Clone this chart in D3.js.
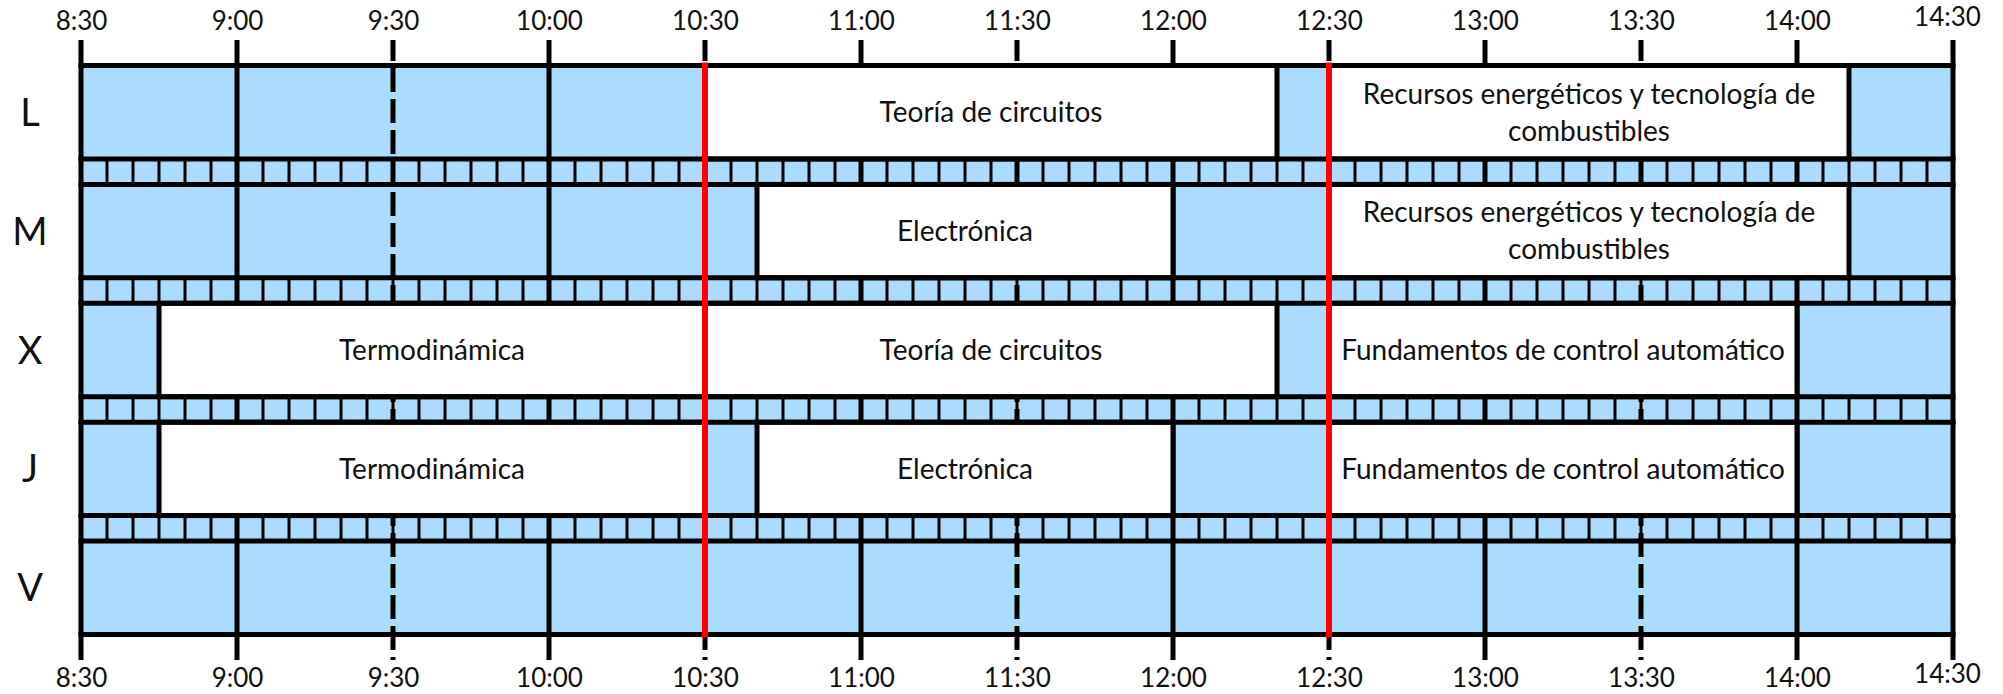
<!DOCTYPE html>
<html>
<head>
<meta charset="utf-8">
<script src="https://cdn.jsdelivr.net/npm/d3@7"></script>
<style>
  body { margin: 0; background: #fff; }
  text { font-family: Lato, "Open Sans", sans-serif; fill: #111; }
</style>
</head>
<body>
<div id="horario"></div>
<script>
// datos del horario
const days = ['L', 'M', 'X', 'J', 'V'];
const timeLabels = ['8:30', '9:00', '9:30', '10:00', '10:30', '11:00', '11:30',
    '12:00', '12:30', '13:00', '13:30', '14:00', '14:30'];

const classDay = ['L', 'L', 'M', 'M', 'X', 'X', 'X', 'J', 'J', 'J'];
const classSubject = [
    'Teoría de circuitos',
    'Recursos energéticos y tecnología de combustibles',
    'Electrónica',
    'Recursos energéticos y tecnología de combustibles',
    'Termodinámica',
    'Teoría de circuitos',
    'Fundamentos de control automático',
    'Termodinámica',
    'Electrónica',
    'Fundamentos de control automático'
];
const classStart = ['10:30', '12:30', '10:40', '12:30', '8:45', '10:30', '12:30', '8:45', '10:40', '12:30'];
const classEnd = ['12:20', '14:10', '12:00', '14:10', '10:30', '12:20', '14:00', '10:30', '12:00', '14:00'];

// descansos marcados en rojo
const breakLines = ['10:30', '12:30'];

function toMin(t) {
    const [h, m] = t.split(':').map(Number);
    return h * 60 + m;
}

const width = 2003;
const height = 694;
const blue = '#abdcfe';
const lineW = 5;

const svg = d3.select('#horario').append('svg')
    .attr('width', width)
    .attr('height', height);

const tStart = toMin(timeLabels[0]);
const tEnd = toMin(timeLabels[timeLabels.length - 1]);

const x = d3.scaleLinear()
    .domain([tStart, tEnd])
    .range([81, 1953]);

const y = d3.scaleBand()
    .domain(days)
    .range([65.5, 634.5])
    .paddingInner(0.214)
    .paddingOuter(0);
const bw = y.bandwidth();

const yTop = y(days[0]);
const yBottom = y(days[days.length - 1]) + bw;

// fondo azul
svg.append('rect')
    .attr('x', x(tStart))
    .attr('y', yTop)
    .attr('width', x(tEnd) - x(tStart))
    .attr('height', yBottom - yTop)
    .attr('fill', blue);

// franjas de 5 minutos entre dias
const strips = svg.append('g').attr('class', 'strips');
days.slice(0, -1).forEach((d, i) => {
    const y0 = y(d) + bw;
    const y1 = y(days[i + 1]);
    strips.selectAll(null)
        .data(d3.range(tStart + 5, tEnd, 5))
        .enter()
        .append('line')
        .attr('x1', m => x(m))
        .attr('x2', m => x(m))
        .attr('y1', y0)
        .attr('y2', y1)
        .attr('stroke', '#000')
        .attr('stroke-width', 3);
});

// lineas verticales (horas continuas, medias horas discontinuas)
const tickMin = timeLabels.map(toMin);
svg.append('g').attr('class', 'grid')
    .selectAll('line')
    .data(tickMin)
    .enter()
    .append('line')
    .attr('x1', m => x(m))
    .attr('x2', m => x(m))
    .attr('y1', 40)
    .attr('y2', 660)
    .attr('stroke', '#000')
    .attr('stroke-width', lineW)
    .attr('stroke-dasharray', (m, i) => (m % 60 === 30 && i > 0 && i < tickMin.length - 1) ? '24,7' : null)
    .attr('stroke-dashoffset', 3);

// clases
const classes = classDay.map((d, i) => ({
    day: d,
    subject: classSubject[i],
    start: toMin(classStart[i]),
    end: toMin(classEnd[i])
}));

const groupClasses = svg.append('g').attr('class', 'classes');
groupClasses.selectAll('rect')
    .data(classes)
    .enter()
    .append('rect')
    .attr('x', d => x(d.start))
    .attr('y', d => y(d.day))
    .attr('width', d => x(d.end) - x(d.start))
    .attr('height', bw)
    .attr('fill', '#fff')
    .attr('stroke', '#000')
    .attr('stroke-width', lineW);

// lineas horizontales
const hLines = [];
days.forEach(d => { hLines.push(y(d)); hLines.push(y(d) + bw); });
svg.append('g').attr('class', 'hlines')
    .selectAll('line')
    .data(hLines)
    .enter()
    .append('line')
    .attr('x1', x(tStart) - lineW / 2)
    .attr('x2', x(tEnd) + lineW / 2)
    .attr('y1', d => d)
    .attr('y2', d => d)
    .attr('stroke', '#000')
    .attr('stroke-width', lineW);

// lineas rojas
svg.append('g').attr('class', 'breaks')
    .selectAll('line')
    .data(breakLines.map(toMin))
    .enter()
    .append('line')
    .attr('x1', m => x(m))
    .attr('x2', m => x(m))
    .attr('y1', yTop - 3)
    .attr('y2', yBottom + 3)
    .attr('stroke', '#ff0000')
    .attr('stroke-width', 6);

// textos de las clases (con salto de linea)
const fs = 28;
const lineH = 37;
groupClasses.selectAll('text')
    .data(classes)
    .enter()
    .append('text')
    .attr('text-anchor', 'middle')
    .attr('font-size', fs)
    .each(function (d) {
        const maxW = x(d.end) - x(d.start) - 8;
        const t = d3.select(this);
        const words = d.subject.split(' ');
        const lines = [];
        let cur = [];
        const probe = t.append('tspan');
        words.forEach(w => {
            const test = cur.concat([w]).join(' ');
            probe.text(test);
            if (probe.node().getComputedTextLength() > maxW && cur.length) {
                lines.push(cur.join(' '));
                cur = [w];
            } else {
                cur.push(w);
            }
        });
        lines.push(cur.join(' '));
        probe.remove();
        const cx = (x(d.start) + x(d.end)) / 2;
        const cy = y(d.day) + bw / 2;
        lines.forEach((ln, k) => {
            t.append('tspan')
                .attr('x', cx)
                .attr('y', cy + (k - (lines.length - 1) / 2) * lineH + fs * 0.35)
                .text(ln);
        });
    });

// etiquetas de dias
svg.append('g').attr('class', 'days')
    .selectAll('text')
    .data(days)
    .enter()
    .append('text')
    .attr('x', 30)
    .attr('y', d => y(d) + bw / 2 + 13.5)
    .attr('text-anchor', 'middle')
    .attr('font-size', 38)
    .text(d => d);

// ejes de horas arriba y abajo
const axisTop = d3.axisTop(x)
    .tickValues(tickMin)
    .tickFormat((d, i) => timeLabels[i])
    .tickSize(0)
    .tickPadding(0);
const axisBottom = d3.axisBottom(x)
    .tickValues(tickMin)
    .tickFormat((d, i) => timeLabels[i])
    .tickSize(0)
    .tickPadding(0);

const gTop = svg.append('g').attr('transform', 'translate(0, 30)').call(axisTop);
const gBottom = svg.append('g').attr('transform', 'translate(0, 669)').call(axisBottom);
[gTop, gBottom].forEach(g => {
    g.select('.domain').remove();
    g.attr('font-family', null).attr('font-size', null);
    g.selectAll('text')
        .attr('font-size', 26)
        .attr('fill', '#111');
    g.selectAll('.tick:last-of-type text').attr('dx', -6);
});
gTop.selectAll('.tick:last-of-type text').attr('dy', '-0.15em');
gBottom.selectAll('.tick:last-of-type text').attr('dy', '0.55em');
</script>
</body>
</html>
